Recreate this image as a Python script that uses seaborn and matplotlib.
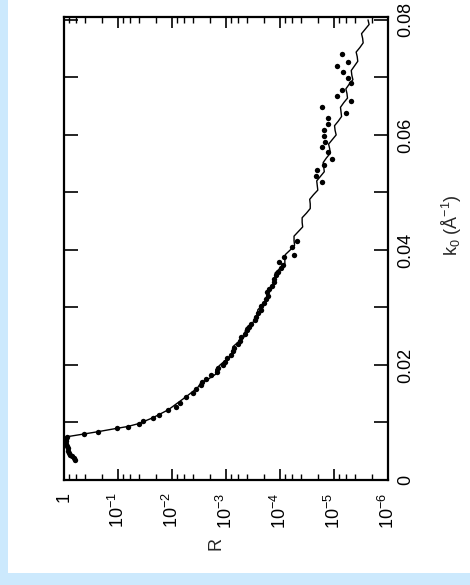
import numpy as np
import pandas as pd
import matplotlib
matplotlib.use('Agg')
import matplotlib.pyplot as plt
import seaborn as sns
from matplotlib.patches import Rectangle
from matplotlib.ticker import FixedLocator, FixedFormatter, LogLocator, NullFormatter

# fitted reflectivity curve (k0 in 1/A, log10 R)
k0_fit = [0.0070, 0.0075, 0.0080, 0.0084, 0.0090, 0.0093, 0.0098, 0.0108, 0.0122, 0.0144,
          0.0160, 0.0168, 0.0176, 0.0184, 0.0192, 0.0200, 0.0208, 0.0216, 0.0224, 0.0232,
          0.0240, 0.0248, 0.0256, 0.0264, 0.0272, 0.0280, 0.0288, 0.0296, 0.0304, 0.0312,
          0.0320, 0.0328, 0.0336, 0.0344, 0.0352, 0.0360, 0.0368, 0.0376, 0.0384, 0.0392,
          0.0400, 0.0408, 0.0416, 0.0424, 0.0432, 0.0440, 0.0448, 0.0456, 0.0464, 0.0472,
          0.0480, 0.0488, 0.0496, 0.0504, 0.0512, 0.0520, 0.0528, 0.0536, 0.0544, 0.0552,
          0.0560, 0.0568, 0.0576, 0.0584, 0.0592, 0.0600, 0.0608, 0.0616, 0.0624, 0.0632,
          0.0640, 0.0648, 0.0656, 0.0664, 0.0672, 0.0680, 0.0688, 0.0696, 0.0704, 0.0712,
          0.0720, 0.0728, 0.0736, 0.0744, 0.0752, 0.0760, 0.0768, 0.0776, 0.0784, 0.0792,
          0.0800]
logR_fit = [0.0, -0.04, -0.37, -0.63, -0.99, -1.18, -1.38, -1.64, -1.93, -2.25,
            -2.47, -2.53, -2.68, -2.81, -2.81, -2.89, -2.99, -3.10, -3.12, -3.13,
            -3.23, -3.33, -3.35, -3.37, -3.47, -3.57, -3.58, -3.59, -3.67, -3.76,
            -3.76, -3.76, -3.83, -3.91, -3.91, -3.91, -4.00, -4.09, -4.09, -4.10,
            -4.19, -4.27, -4.26, -4.26, -4.34, -4.42, -4.41, -4.41, -4.49, -4.56,
            -4.56, -4.55, -4.62, -4.70, -4.69, -4.68, -4.75, -4.82, -4.81, -4.80,
            -4.86, -4.93, -4.92, -4.90, -4.97, -5.04, -5.02, -5.01, -5.08, -5.14,
            -5.13, -5.12, -5.18, -5.25, -5.24, -5.22, -5.28, -5.35, -5.33, -5.32,
            -5.38, -5.44, -5.43, -5.41, -5.48, -5.54, -5.53, -5.51, -5.58, -5.65,
            -5.63]

# measured points
k0_meas = [0.0035, 0.0038, 0.0041, 0.0044, 0.0047, 0.0051, 0.0055, 0.0059, 0.0063, 0.0067,
           0.0071, 0.0075,
           0.0080, 0.00835, 0.0090, 0.0092, 0.0097, 0.0103, 0.0108, 0.0113, 0.0122, 0.0127,
           0.0134, 0.0144, 0.0151, 0.0158, 0.0165,
           0.0170, 0.0176, 0.0182, 0.0188, 0.0194, 0.0200, 0.0206, 0.0212, 0.0218, 0.0224,
           0.0230, 0.0236, 0.0242, 0.0248, 0.0254, 0.0260, 0.0266, 0.0272, 0.0278, 0.0284,
           0.0290, 0.0296, 0.0302, 0.0308, 0.0314, 0.0320, 0.0326, 0.0332, 0.0338, 0.0344,
           0.0350, 0.0356, 0.0362, 0.0368, 0.0374, 0.0379, 0.0388, 0.0391, 0.0405, 0.0416,
           0.0518, 0.0529, 0.0539, 0.0548, 0.0558, 0.0570, 0.0579, 0.0588, 0.0598, 0.0609,
           0.0619, 0.0630, 0.0649, 0.0638, 0.0659, 0.0668, 0.0678, 0.0690, 0.0699, 0.0710,
           0.0720, 0.0727, 0.0741]
logR_meas = [-0.21, -0.18, -0.15, -0.12, -0.10, -0.08, -0.07, -0.055, -0.045, -0.04,
             -0.04, -0.055,
             -0.37, -0.63, -0.99, -1.18, -1.38, -1.47, -1.64, -1.75, -1.93, -2.07,
             -2.15, -2.25, -2.38, -2.45, -2.53,
             -2.56, -2.63, -2.72, -2.83, -2.86, -2.95, -2.99, -3.02, -3.09, -3.13,
             -3.14, -3.22, -3.26, -3.27, -3.36, -3.38, -3.43, -3.46, -3.53, -3.56,
             -3.60, -3.64, -3.65, -3.70, -3.74, -3.77, -3.76, -3.80, -3.86, -3.89,
             -3.88, -3.93, -3.97, -4.02, -4.05, -3.99, -4.08, -4.26, -4.22, -4.31,
             -4.77, -4.67, -4.69, -4.82, -4.96, -4.89, -4.77, -4.84, -4.82, -4.82,
             -4.89, -4.89, -4.78, -5.22, -5.31, -5.05, -5.14, -5.32, -5.26, -5.17,
             -5.05, -5.26, -5.14]

r_ticks = [1, 1e-1, 1e-2, 1e-3, 1e-4, 1e-5, 1e-6]
r_labels = ['1', r'$10^{-1}$', r'$10^{-2}$', r'$10^{-3}$', r'$10^{-4}$', r'$10^{-5}$', r'$10^{-6}$']
k0_ticks = [0, 0.01, 0.02, 0.03, 0.04, 0.05, 0.06, 0.07, 0.08]
k0_labels = ['0', '', '0.02', '', '0.04', '', '0.06', '', '0.08']

fit = pd.DataFrame({'R': 10 ** np.array(logR_fit), 'k0': k0_fit})
meas = pd.DataFrame({'R': 10 ** np.array(logR_meas), 'k0': k0_meas})

sns.set_theme(style='ticks')
plt.rcParams['font.family'] = ['Liberation Sans', 'DejaVu Sans']
plt.rcParams['mathtext.fontset'] = 'custom'
plt.rcParams['mathtext.rm'] = 'Liberation Sans'
plt.rcParams['mathtext.it'] = 'Liberation Sans:italic'
plt.rcParams['mathtext.sf'] = 'Liberation Sans'

# white page with a light blue strip on the left and at the bottom
fig = plt.figure(figsize=(4.70, 5.85), dpi=100, facecolor='white')
blue = '#cce9fd'
fig.patches.append(Rectangle((0, 0), 8 / 470, 1, transform=fig.transFigure,
                             facecolor=blue, edgecolor='none', zorder=-5))
fig.patches.append(Rectangle((0, 0), 1, 12 / 585, transform=fig.transFigure,
                             facecolor=blue, edgecolor='none', zorder=-5))

ax = fig.add_axes([64 / 470, 105 / 585, 324 / 470, 463 / 585])
ax.set_facecolor('white')

sns.lineplot(data=fit, x='R', y='k0', sort=False, estimator=None,
             color='black', linewidth=1.0, ax=ax)
sns.scatterplot(data=meas, x='R', y='k0', color='black', s=15,
                linewidth=0, ax=ax, zorder=3)

ax.set_xscale('log')
ax.set_xlim(1.0, 1e-6)
ax.set_ylim(0, 0.0805)

ax.xaxis.set_major_locator(FixedLocator(r_ticks))
ax.xaxis.set_major_formatter(FixedFormatter(r_labels))
ax.xaxis.set_minor_locator(LogLocator(base=10, subs=[2, 4, 6, 8], numticks=20))
ax.xaxis.set_minor_formatter(NullFormatter())
ax.yaxis.set_major_locator(FixedLocator(k0_ticks))
ax.yaxis.set_major_formatter(FixedFormatter(k0_labels))

ax.tick_params(axis='both', which='both', direction='in', colors='black',
               top=True, bottom=True, left=True, right=True,
               labelleft=False, labelright=True, labelsize=13)
ax.tick_params(axis='x', which='major', length=8, width=1.2, pad=9, labelrotation=90)
ax.tick_params(axis='x', which='minor', length=4.5, width=1.0)
ax.tick_params(axis='y', which='major', length=10, width=1.2, pad=7, labelrotation=90)
for lab in ax.get_yticklabels():
    lab.set_va('center')
for s in ax.spines.values():
    s.set_linewidth(1.6)
    s.set_color('black')
ax.set_xlabel('')
ax.set_ylabel('')

fig.text(216 / 470, 1 - 543 / 585, 'R', rotation=90, ha='center', va='center', fontsize=13)
fig.text(452 / 470, 1 - 225 / 585, 'k$_0$ (Å$^{-1}$)', rotation=90,
         ha='center', va='center', fontsize=13)

fig.savefig('out.png', dpi=100, facecolor=fig.get_facecolor())
